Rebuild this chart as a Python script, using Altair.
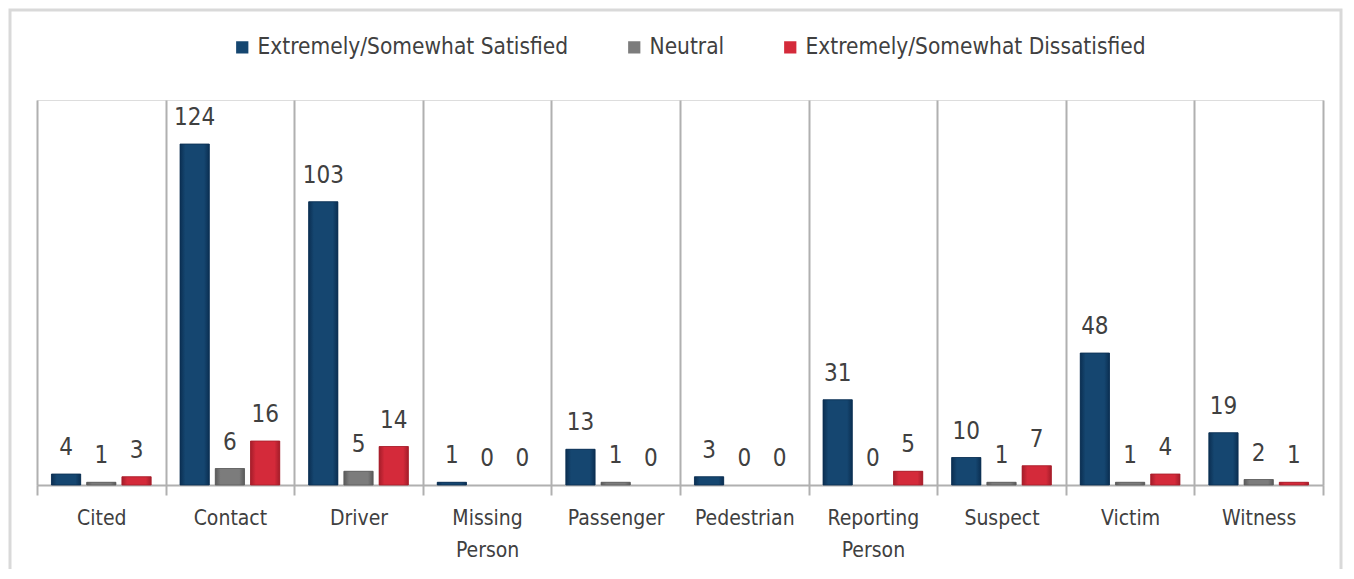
import altair as alt
import pandas as pd

categories = ["Cited", "Contact", "Driver", "Missing Person", "Passenger",
              "Pedestrian", "Reporting Person", "Suspect", "Victim", "Witness"]
series = ["Extremely/Somewhat Satisfied", "Neutral", "Extremely/Somewhat Dissatisfied"]
satisfied = [4, 124, 103, 1, 13, 3, 31, 10, 48, 19]
neutral = [1, 6, 5, 0, 1, 0, 0, 1, 1, 2]
dissatisfied = [3, 16, 14, 0, 0, 0, 5, 7, 4, 1]
colors = ["#154670", "#7c7c7c", "#d42a3a"]
edges = ["#0b2f52", "#5a5a5a", "#a51d2a"]

rows = []
for i, c in enumerate(categories):
    for s, vals in zip(series, [satisfied, neutral, dissatisfied]):
        rows.append({"category": c, "series": s, "value": vals[i]})
df = pd.DataFrame(rows)

FONT = "'DejaVu Sans Condensed', 'Liberation Sans Narrow', sans-serif"
W, H = 1286, 385

x = alt.X("category:N", sort=categories, title=None,
          scale=alt.Scale(paddingInner=0, paddingOuter=0),
          axis=alt.Axis(labelAngle=0, labelFont=FONT, labelFontSize=21,
                        labelColor="#404040", labelPadding=12,
                        labelExpr="split(datum.label, ' ')", labelLineHeight=32,
                        labelBaseline="top",
                        tickBand="extent", ticks=True, tickSize=10,
                        tickColor="#b0b0b0", tickWidth=2,
                        grid=True, gridColor="#b0b0b0", gridWidth=2,
                        domainColor="#b0b0b0", domainWidth=2))
xo = alt.XOffset("series:N", sort=series,
                 scale=alt.Scale(domain=series, paddingInner=0.17, paddingOuter=0.41))
y = alt.Y("value:Q", scale=alt.Scale(domain=[0, 140]), axis=None)

color = alt.Color("series:N", sort=series,
                  scale=alt.Scale(domain=series, range=colors),
                  legend=alt.Legend(title=None, orient="none", direction="horizontal",
                                    legendX=194, legendY=-64,
                                    symbolType="square", symbolSize=150,
                                    symbolStrokeWidth=0,
                                    labelFont=FONT, labelFontSize=22.5,
                                    labelColor="#404040", labelOffset=4,
                                    labelLimit=1000,
                                    columnPadding=54))

base_bars = alt.Chart(df).transform_filter("datum.value > 0").mark_bar().encode(
    x=x, xOffset=xo, y=y, color=color,
)

shade_layers = []
for s, c, e in zip(series, colors, edges):
    grad = {"gradient": "linear", "x1": 0, "x2": 1, "y1": 0, "y2": 0,
            "stops": [{"offset": 0, "color": e}, {"offset": 0.18, "color": c},
                      {"offset": 0.82, "color": c}, {"offset": 1, "color": e}]}
    shade_layers.append(
        alt.Chart(df).transform_filter(f"datum.value > 0 && datum.series == '{s}'")
        .mark_bar(color=grad, stroke=e, strokeWidth=0.8)
        .encode(x=x, xOffset=xo, y=y)
    )

labels = alt.Chart(df).mark_text(font=FONT, fontSize=24, color="#404040",
                                 baseline="alphabetic", dy=-19).encode(
    x=x, xOffset=xo, y=y, text="value:Q"
)

frame = alt.Chart(pd.DataFrame({"a": [0]})).mark_rect(
    fill=None, stroke="#d9d9d9", strokeWidth=3
).encode(x=alt.value(-27), x2=alt.value(W + 18), y=alt.value(-90), y2=alt.value(H + 120))

chart = alt.layer(frame, base_bars, *shade_layers, labels).properties(
    width=W, height=H,
    autosize=alt.AutoSizeParams(type="none"),
    padding={"left": 29, "top": 92, "right": 20, "bottom": 84},
).configure_view(stroke=None).configure(background="white")

chart.save("out.html", embed_options={"renderer": "svg", "actions": False})
